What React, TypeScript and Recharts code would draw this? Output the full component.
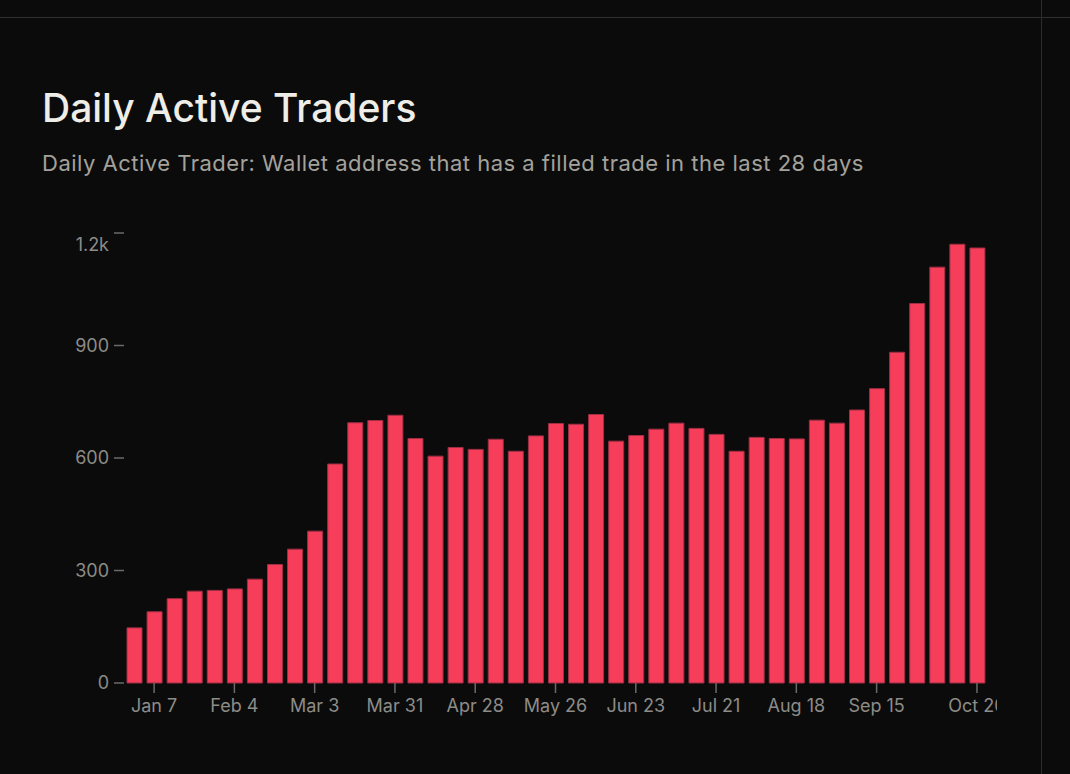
import React from "react";
import { BarChart, Bar, XAxis, YAxis } from "recharts";

// weekly buckets, starting Dec 31
const weeks = [
  "Dec 31", "Jan 7", "Jan 14", "Jan 21", "Jan 28", "Feb 4", "Feb 11", "Feb 18",
  "Feb 25", "Mar 3", "Mar 10", "Mar 17", "Mar 24", "Mar 31", "Apr 7", "Apr 14",
  "Apr 21", "Apr 28", "May 5", "May 12", "May 19", "May 26", "Jun 2", "Jun 9",
  "Jun 16", "Jun 23", "Jun 30", "Jul 7", "Jul 14", "Jul 21", "Jul 28", "Aug 4",
  "Aug 11", "Aug 18", "Aug 25", "Sep 1", "Sep 8", "Sep 15", "Sep 22", "Sep 29",
  "Oct 6", "Oct 13", "Oct 20",
];

const traders = [
  147, 190, 225, 245, 247, 251, 277, 316, 357, 405, 584, 694, 700, 714, 652,
  605, 628, 623, 650, 618, 659, 692, 690, 716, 645, 660, 677, 693, 679, 663,
  618, 655, 652, 651, 701, 693, 728, 785, 882, 1012, 1109, 1170, 1160,
];

const xTicks = [
  "Jan 7", "Feb 4", "Mar 3", "Mar 31", "Apr 28", "May 26", "Jun 23",
  "Jul 21", "Aug 18", "Sep 15", "Oct 20",
];

const yTicks = [0, 300, 600, 900, 1200];

const FONT = "Inter, 'Noto Sans', sans-serif";
const TICK_COLOR = "#8d8c88";
const LINE_COLOR = "#6a6a6a";

const fmtY = (v: number) => (v >= 1000 ? `${v / 1000}k` : `${v}`);

function YTick(props: any) {
  const { x, y, payload } = props;
  // top label sits a little below its tick so it isn't clipped
  const shift = payload.value === 1200 ? 12 : 0;
  return (
    <text
      x={x}
      y={y + shift}
      dy="0.355em"
      textAnchor="end"
      fill={TICK_COLOR}
      fontSize={18}
      fontFamily={FONT}
    >
      {fmtY(payload.value)}
    </text>
  );
}

export default function App() {
  const data = weeks.map((w, i) => ({ week: w, traders: traders[i] }));

  return (
    <div
      style={{
        position: "fixed",
        left: 0,
        top: 0,
        width: 1070,
        height: 774,
        background: "#0b0b0b",
        overflow: "hidden",
        fontFamily: FONT,
      }}
    >
      <div
        style={{
          position: "absolute",
          left: 0,
          top: 17,
          width: 1070,
          height: 1,
          background: "#2f2f2c",
        }}
      />
      <div
        style={{
          position: "absolute",
          left: 1041,
          top: 0,
          width: 1,
          height: 774,
          background: "#2c2c2c",
        }}
      />
      <div
        style={{
          position: "absolute",
          left: 42,
          top: 88,
          fontSize: 39,
          lineHeight: "39px",
          fontWeight: 500,
          color: "#eeede8",
          whiteSpace: "nowrap",
        }}
      >
        Daily Active Traders
      </div>
      <div
        style={{
          position: "absolute",
          left: 42,
          top: 152,
          fontSize: 22,
          lineHeight: "22px",
          letterSpacing: 0.5,
          color: "#a3a29c",
          whiteSpace: "nowrap",
        }}
      >
        Daily Active Trader: Wallet address that has a filled trade in the last
        28 days
      </div>

      <div
        style={{
          position: "absolute",
          left: 0,
          top: 200,
          width: 997,
          height: 540,
          overflow: "hidden",
        }}
      >
        <BarChart
          width={997}
          height={540}
          data={data}
          margin={{ top: 33, right: 10, bottom: 27, left: 0 }}
        >
          <XAxis
            dataKey="week"
            ticks={xTicks}
            interval={0}
            axisLine={false}
            tickSize={10}
            tickMargin={6}
            height={30}
            tickLine={{ stroke: LINE_COLOR, strokeWidth: 1.5 }}
            tick={{ fill: TICK_COLOR, fontSize: 18, fontFamily: FONT }}
          />
          <YAxis
            width={124}
            domain={[0, 1200]}
            ticks={yTicks}
            axisLine={false}
            tickSize={10}
            tickMargin={5}
            tickLine={{ stroke: LINE_COLOR, strokeWidth: 1.5 }}
            tick={<YTick />}
          />
          <Bar
            dataKey="traders"
            fill="#f63d5a"
            stroke="#9e2f43"
            strokeWidth={1}
            barSize={15}
            isAnimationActive={false}
          />
        </BarChart>
      </div>
    </div>
  );
}
